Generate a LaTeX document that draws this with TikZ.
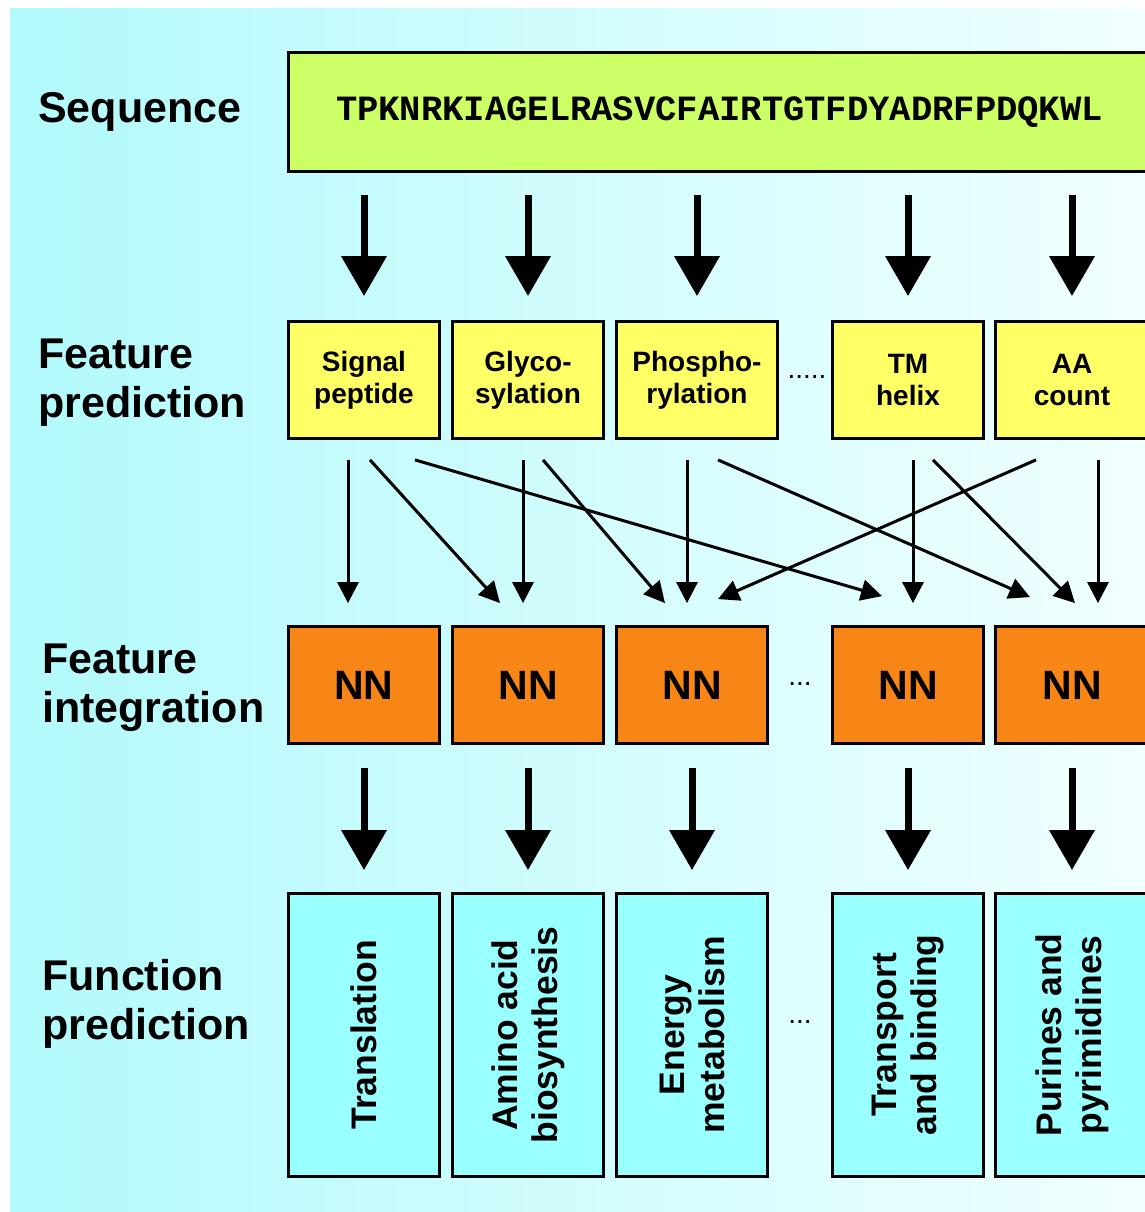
\documentclass[tikz,border=0pt]{standalone}
\usepackage{fontspec}
\setmainfont{Liberation Sans}
\newfontfamily\seqfont{Liberation Mono}
\usetikzlibrary{arrows.meta,positioning}
\definecolor{bgleft}{RGB}{178,250,252}
\definecolor{bgright}{RGB}{242,255,255}
\definecolor{seqgreen}{RGB}{204,255,102}
\definecolor{featyellow}{RGB}{255,255,102}
\definecolor{nnorange}{RGB}{247,134,22}
\definecolor{funccyan}{RGB}{153,255,255}

\begin{document}
\begin{tikzpicture}[x=1pt,y=-1pt,
    box/.style={draw=black, line width=2.8pt, inner sep=0pt, align=center},
    seqbox/.style={box, fill=seqgreen, minimum width=862pt, minimum height=119pt, font=\seqfont\bfseries\fontsize{35.5}{40}\selectfont},
    featbox/.style={box, fill=featyellow, minimum width=151pt, minimum height=117pt, font=\bfseries\fontsize{28}{32}\selectfont},
    nnbox/.style={box, fill=nnorange, minimum width=151pt, minimum height=117pt, font=\bfseries\fontsize{41}{45}\selectfont},
    funcbox/.style={box, fill=funccyan, rotate=90, minimum width=283pt, minimum height=151pt, font=\bfseries\fontsize{35.5}{40}\selectfont},
    rowlabel/.style={anchor=west, inner sep=0pt, align=left, font=\bfseries\fontsize{43}{49}\selectfont},
    gapdots/.style={inner sep=0pt, font=\fontsize{28}{30}\selectfont},
    bigarrow/.style={line width=7pt, -{Triangle[width=44pt,length=40pt]}},
    smallarrow/.style={line width=3pt, -{Triangle[width=21pt,length=21pt]}}
    ]
  \path[use as bounding box, clip] (0,0) rectangle (1145,1212);
  \shade[left color=bgleft, right color=bgright] (10,9) rectangle (1160,1220);

  % row labels
  \node[rowlabel] (lseq) at (38,112) {Sequence};
  \node[rowlabel] (lfeat) at (38,383) {Feature\\prediction};
  \node[rowlabel] (lint) at (42,688) {Feature\\integration};
  \node[rowlabel] (lfunc) at (42,1004) {Function\\prediction};

  % sequence
  \node[seqbox] (seq) at (719.5,112) {TPKNRKIAGELRASVCFAIRTGTFDYADRFPDQKWL};

  % feature prediction
  \node[featbox] (feat1) at (364,380) {Signal\\peptide};
  \node[featbox] (feat2) at (528,380) {Glyco-\\sylation};
  \node[featbox, minimum width=161pt] (feat3) at (697,380) {Phospho-\\rylation};
  \node[featbox] (feat4) at (908,380) {TM\\helix};
  \node[featbox, minimum width=153pt] (feat5) at (1072,380) {AA\\count};
  \node[gapdots] (gap1) at (807,377) {.....};

  % feature integration
  \node[nnbox] (nn1) at (364,685) {NN};
  \node[nnbox] (nn2) at (528,685) {NN};
  \node[nnbox] (nn3) at (692,685) {NN};
  \node[nnbox] (nn4) at (908,685) {NN};
  \node[nnbox, minimum width=153pt] (nn5) at (1072,685) {NN};
  \node[gapdots] (gap2) at (800,684) {...};

  % function prediction (rotated, so east is the top side)
  \node[funcbox] (func1) at (364,1035) {Translation};
  \node[funcbox] (func2) at (528,1035) {Amino acid\\biosynthesis};
  \node[funcbox] (func3) at (692,1035) {Energy\\metabolism};
  \node[funcbox] (func4) at (908,1035) {Transport\\and binding};
  \node[funcbox, minimum height=153pt] (func5) at (1072,1035) {Purines and\\pyrimidines};
  \node[gapdots] (gap3) at (800,1022) {...};

  % arrows
  \foreach \n in {1,...,5}{
    \draw[bigarrow, shorten <=22pt, shorten >=24pt] (feat\n.north |- seq.south) -- (feat\n.north);
    \draw[bigarrow, shorten <=23pt, shorten >=22pt] (nn\n.south) -- (func\n.east);
  }
  \foreach \a/\da/\b/\db/\g in {1/-16/1/-16/22, 1/6/2/-28/22, 1/51/4/-26/29,
      2/-5/2/-5/22, 2/15/3/-27/22, 3/-10/3/-5/22, 3/21/5/-42/28,
      4/5/4/5/22, 4/25/5/3/22, 5/-36/3/26/26, 5/26/5/26/22}
    \draw[smallarrow] ([xshift=\da pt, yshift=-20pt]feat\a.south) -- ([xshift=\db pt, yshift=\g pt]nn\b.north);
\end{tikzpicture}
\end{document}
